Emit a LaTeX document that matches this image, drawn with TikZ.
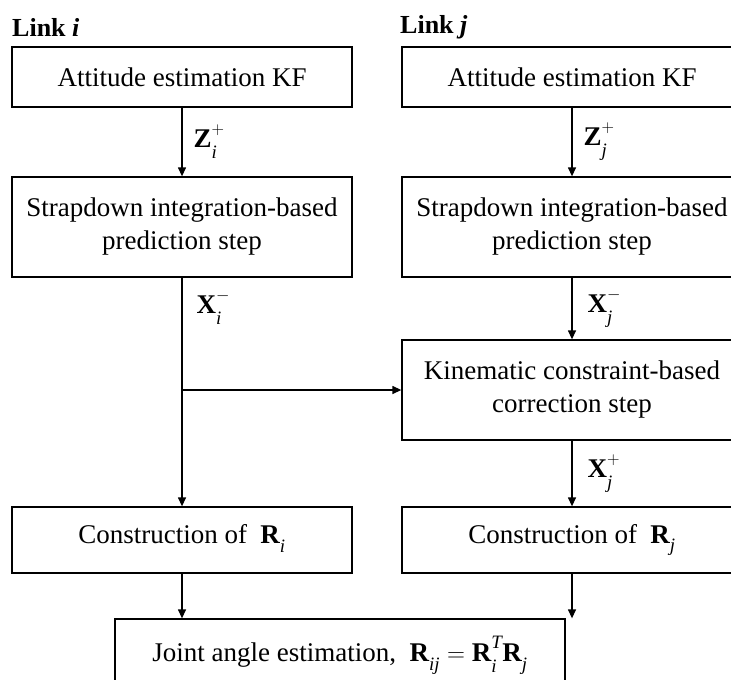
\documentclass[tikz,border=0pt]{standalone}
\usepackage{fontspec}
\setmainfont{Liberation Serif}
\usetikzlibrary{arrows.meta,positioning,calc}
% bold symbol with lowered subscript and raised superscript
\newcommand{\mvecss}[3]{\mathbf{#1}^{\raisebox{4pt}{$\scriptstyle #2$}}_{\raisebox{-5pt}{$\scriptstyle\mathit{#3}$}}}
\newcommand{\mvecs}[2]{\mathbf{#1}_{\raisebox{-5pt}{$\scriptstyle\mathit{#2}\vphantom{j}$}}}

\begin{document}
\begin{tikzpicture}[x=1pt, y=-1pt,
  blk/.style={rectangle, draw, line width=1.3pt, minimum width=340pt, align=center,
    font=\fontsize{27}{33}\selectfont},
  arr/.style={-{Triangle[length=9pt,width=8pt]}, line width=1.3pt},
  lbl/.style={font=\fontsize{27}{33}\selectfont, inner sep=0pt},
  hdr/.style={font=\fontsize{26}{30}\selectfont\bfseries, inner sep=0pt, anchor=west}
]
  \useasboundingbox (0,0) rectangle (731,680);
  \clip (0,0) rectangle (731,680);

  % Link i
  \node[hdr] (hi) at (12,27) {Link \textit{i}};
  \node[blk, minimum height=60pt] (atti) at (182,77) {Attitude estimation KF};
  \node[blk, minimum height=100pt] (stri) at (182,227) {Strapdown integration-based\\prediction step};
  \node[blk, minimum height=66pt] (coni) at (182,540) {Construction of~~$\mvecs{R}{i}$};

  % Link j
  \node[hdr] (hj) at (400,27) {Link \textit{j}};
  \node[blk, minimum height=60pt] (attj) at (572,77) {Attitude estimation KF};
  \node[blk, minimum height=100pt] (strj) at (572,227) {Strapdown integration-based\\prediction step};
  \node[blk, minimum height=100pt] (kinj) at (572,390) {Kinematic constraint-based\\correction step};
  \node[blk, minimum height=66pt] (conj) at (572,540) {Construction of~~$\mvecs{R}{j}$};

  % joint angle
  \node[blk, minimum width=450pt, minimum height=72pt] (joint) at (340,655)
    {Joint angle estimation,~~$\mvecs{R}{ij} = \mvecss{R}{\mathit{T}}{i}\mvecs{R}{j}$};

  % connectors
  \draw[arr] (atti) -- (stri) node[lbl, midway, right=11pt] (zi) {$\mvecss{Z}{+}{i}$};
  \draw[arr] (stri) -- (coni) node[lbl, pos=0.13, right=14pt] (xi) {$\mvecss{X}{-}{i}$};
  \coordinate (br) at (stri.south |- kinj.west);
  \draw[arr] (br) -- (kinj.west);
  \draw[arr] (attj) -- (strj) node[lbl, midway, right=11pt] (zj) {$\mvecss{Z}{+}{j}$};
  \draw[arr] (strj) -- (kinj) node[lbl, midway, right=15pt] (xj) {$\mvecss{X}{-}{j}$};
  \draw[arr] (kinj) -- (conj) node[lbl, midway, right=15pt] (xpj) {$\mvecss{X}{+}{j}$};
  \draw[arr] (coni.south) -- (coni.south |- joint.north);
  \draw[arr] (conj.south) -- (conj.south |- joint.north);
\end{tikzpicture}
\end{document}
